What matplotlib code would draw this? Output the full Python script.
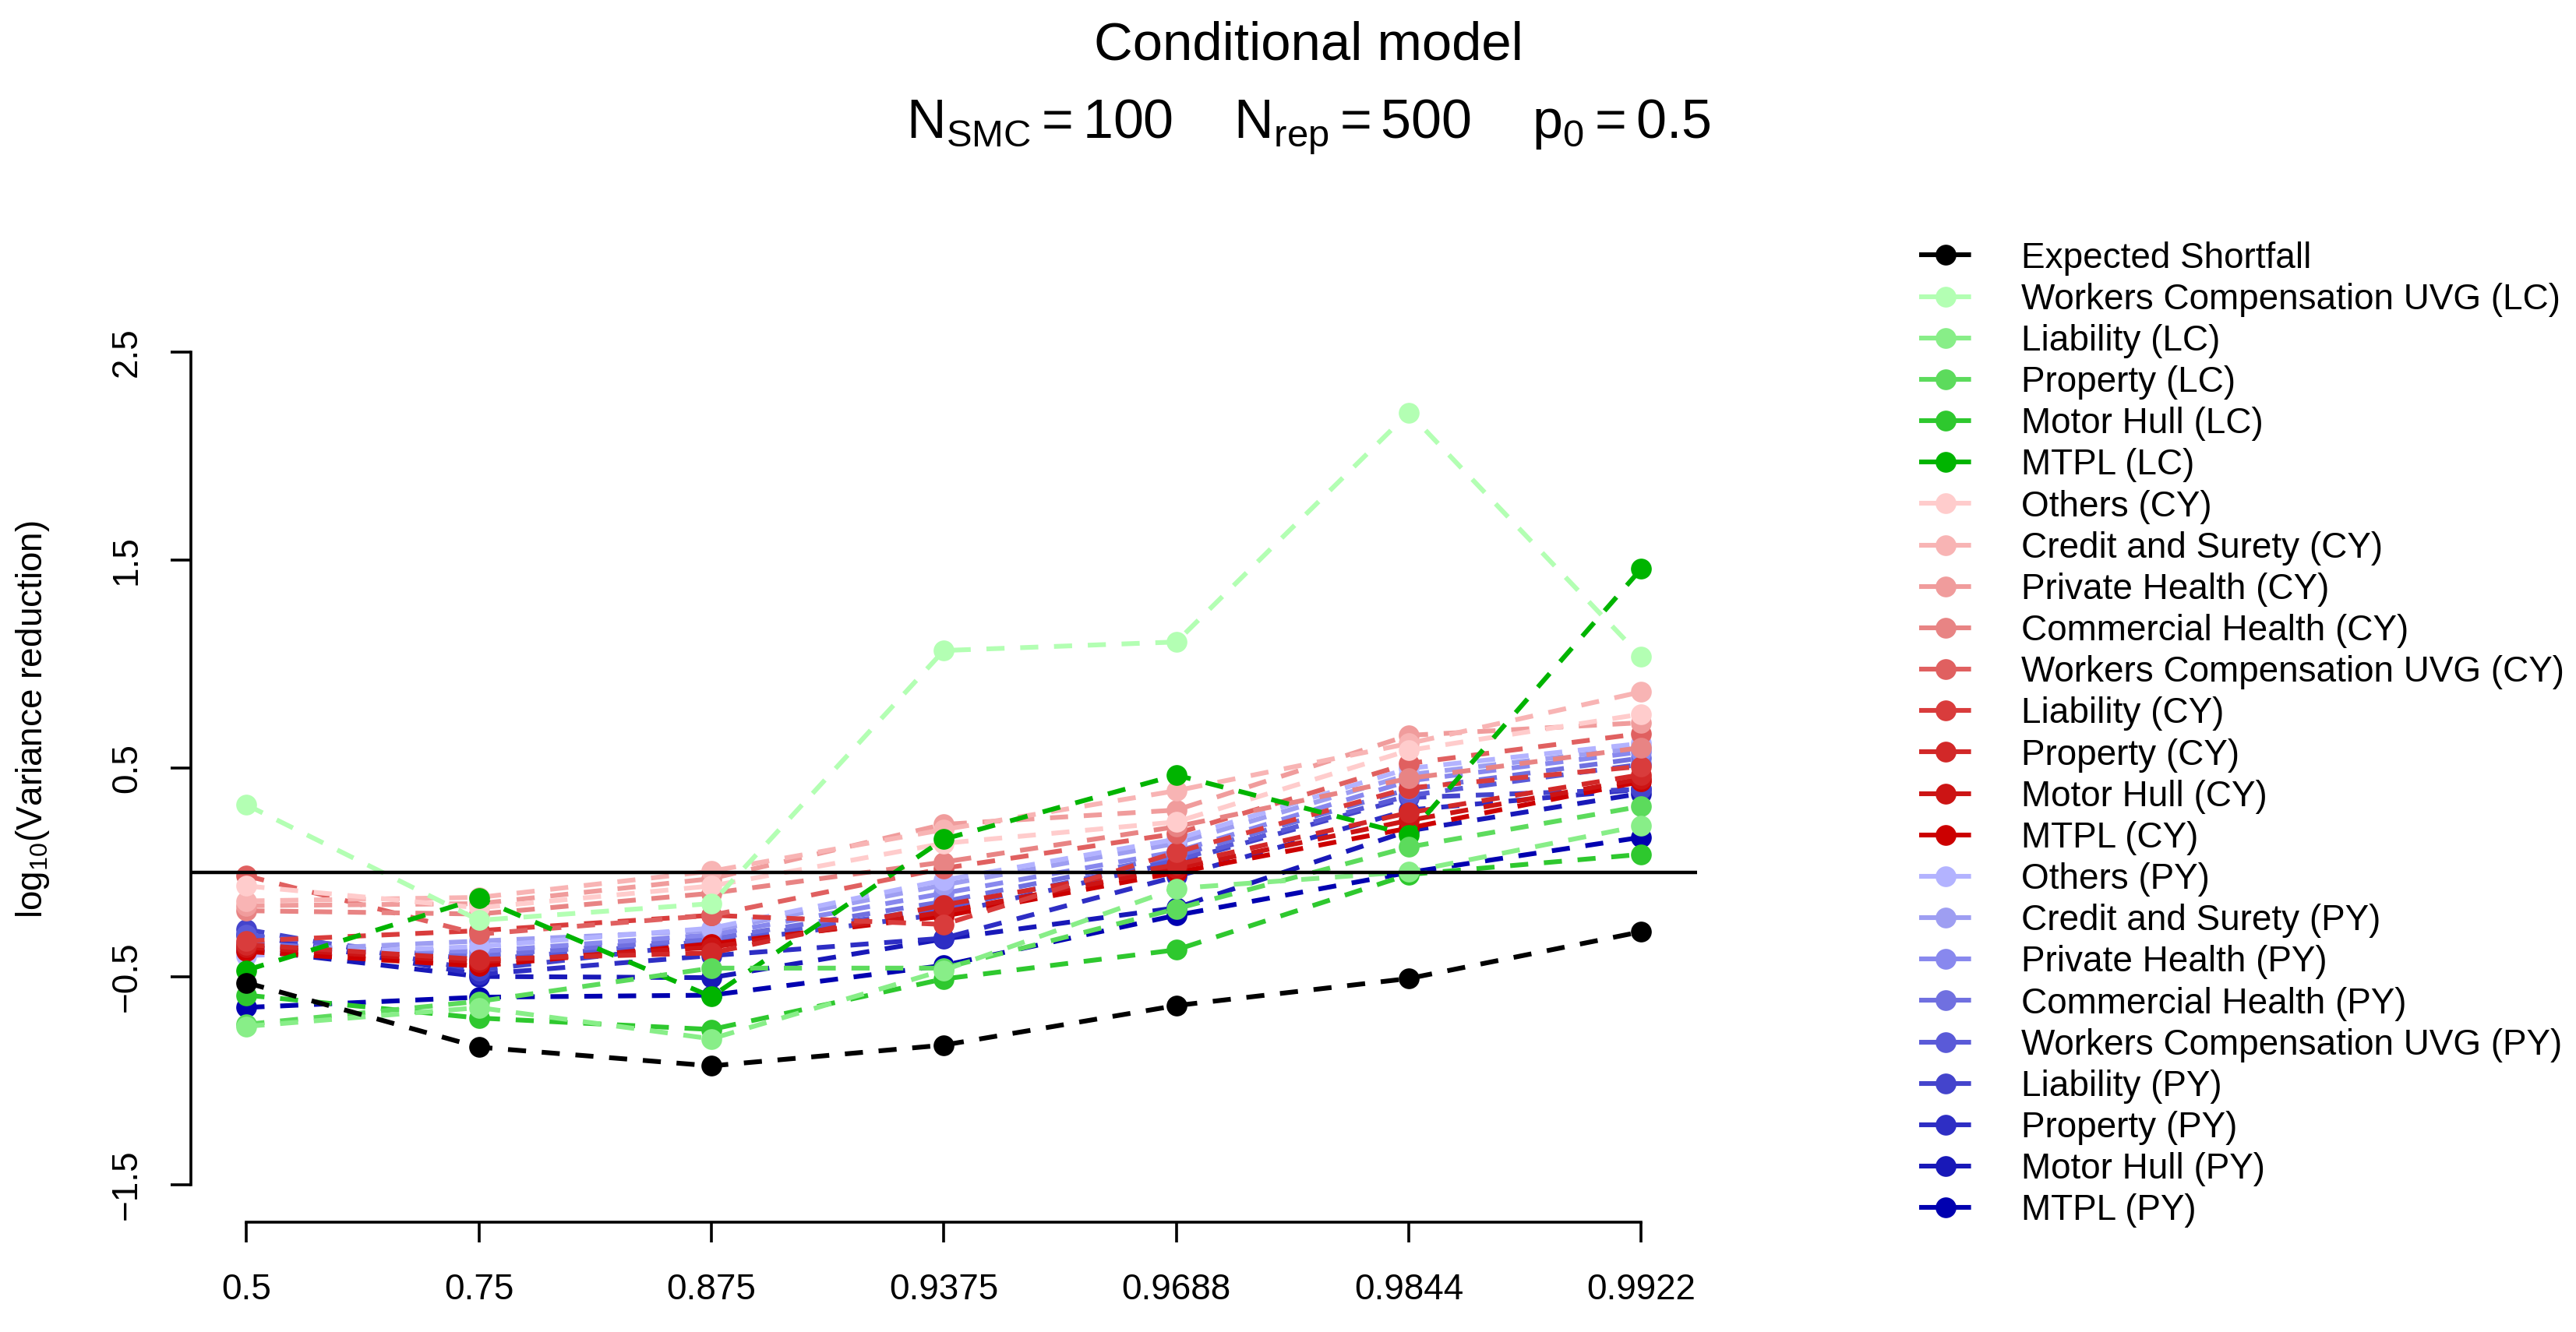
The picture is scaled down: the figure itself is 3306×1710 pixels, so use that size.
import matplotlib
matplotlib.use("Agg")
import matplotlib.pyplot as plt
from matplotlib.lines import Line2D

plt.rcParams['font.family'] = ['Liberation Sans', 'DejaVu Sans']
plt.rcParams['mathtext.fontset'] = 'custom'
plt.rcParams['mathtext.rm'] = 'Liberation Sans'
plt.rcParams['mathtext.it'] = 'Liberation Sans:italic'
plt.rcParams['mathtext.bf'] = 'Liberation Sans:bold'

# ---------------- data ----------------
x_labels = ["0.5", "0.75", "0.875", "0.9375", "0.9688", "0.9844", "0.9922"]

series_names = [
    "Expected Shortfall",
    "Workers Compensation UVG (LC)", "Liability (LC)", "Property (LC)", "Motor Hull (LC)", "MTPL (LC)",
    "Others (CY)", "Credit and Surety (CY)", "Private Health (CY)", "Commercial Health (CY)",
    "Workers Compensation UVG (CY)", "Liability (CY)", "Property (CY)", "Motor Hull (CY)", "MTPL (CY)",
    "Others (PY)", "Credit and Surety (PY)", "Private Health (PY)", "Commercial Health (PY)",
    "Workers Compensation UVG (PY)", "Liability (PY)", "Property (PY)", "Motor Hull (PY)", "MTPL (PY)",
]

series_colors = [
    "#000000",
    "#B3FFB3", "#88EE88", "#5CDB5C", "#2EC82E", "#00B400",
    "#FFCCCC", "#F8B4B4", "#F09C9C", "#E88484", "#E06060", "#D93C3C", "#D22828", "#CC1414", "#CC0000",
    "#B3B3FF", "#9E9EF2", "#8888EE", "#7070E0", "#5A5AD8", "#4444CC", "#2E2EC4", "#1818B8", "#0000B0",
]

es          = [-0.53, -0.84, -0.93, -0.83, -0.64, -0.51, -0.285]
wc_lc       = [0.325, -0.23, -0.15, 1.067, 1.108, 2.21, 1.037]
liab_lc     = [-0.74, -0.65, -0.80, -0.47, -0.077, 0.003, 0.225]
prop_lc     = [-0.73, -0.62, -0.46, -0.46, -0.175, 0.122, 0.318]
mh_lc       = [-0.59, -0.70, -0.755, -0.512, -0.372, -0.01, 0.087]
mtpl_lc     = [-0.47, -0.125, -0.597, 0.16, 0.468, 0.181, 1.46]

others_cy   = [-0.065, -0.17, -0.065, 0.14, 0.243, 0.587, 0.761]
credit_cy   = [-0.137, -0.12, 0.006, 0.206, 0.393, 0.62, 0.868]
private_cy  = [-0.16, -0.15, -0.03, 0.231, 0.30, 0.659, 0.72]
comm_cy     = [-0.184, -0.20, -0.10, 0.05, 0.22, 0.452, 0.60]
wc_cy       = [-0.016, -0.297, -0.206, 0.02, 0.187, 0.524, 0.668]
liab_cy     = [-0.33, -0.28, -0.206, -0.25, 0.097, 0.406, 0.51]
prop_cy     = [-0.347, -0.418, -0.387, -0.156, 0.037, 0.287, 0.47]
mh_cy       = [-0.36, -0.43, -0.36, -0.19, 0.02, 0.25, 0.45]
mtpl_cy     = [-0.38, -0.45, -0.343, -0.21, 0.0, 0.213, 0.437]

others_py   = [-0.40, -0.356, -0.268, -0.037, 0.16, 0.50, 0.62]
credit_py   = [-0.38, -0.33, -0.28, -0.06, 0.14, 0.47, 0.60]
private_py  = [-0.36, -0.38, -0.30, -0.10, 0.10, 0.44, 0.58]
comm_py     = [-0.34, -0.40, -0.32, -0.14, 0.08, 0.40, 0.55]
wc_py       = [-0.30, -0.42, -0.33, -0.17, 0.06, 0.37, 0.52]
liab_py     = [-0.274, -0.47, -0.34, -0.20, 0.05, 0.36, 0.40]
prop_py     = [-0.30, -0.49, -0.40, -0.316, -0.02, 0.30, 0.40]
mh_py       = [-0.37, -0.50, -0.506, -0.32, -0.17, 0.20, 0.38]
mtpl_py     = [-0.649, -0.60, -0.59, -0.447, -0.206, 0.0, 0.169]

series_values = [
    es, wc_lc, liab_lc, prop_lc, mh_lc, mtpl_lc,
    others_cy, credit_cy, private_cy, comm_cy, wc_cy, liab_cy, prop_cy, mh_cy, mtpl_cy,
    others_py, credit_py, private_py, comm_py, wc_py, liab_py, prop_py, mh_py, mtpl_py,
]

y_ticks = [-1.5, -0.5, 0.5, 1.5, 2.5]

# ---------------- figure ----------------
W, H, DPI = 3306, 1710, 200
fig = plt.figure(figsize=(W / DPI, H / DPI), dpi=DPI)
ax = fig.add_axes([0.0740, 0.0858, 0.5848, 0.6746])

xpos = list(range(1, len(x_labels) + 1))
FS = 16.5
LW = 2.2
dash = (0, (3.8, 3.3))
MS = 9.6

n = len(series_values)
handles = []
for i in range(n):
    # first legend entry lies on top
    ax.plot(xpos, series_values[i], linestyle=dash, lw=LW, color=series_colors[i],
            marker='o', ms=MS, mec=series_colors[i], mew=0, zorder=3 + (n - i) * 0.01)
    handles.append(Line2D([0], [0], linestyle=dash, lw=LW, color=series_colors[i],
                          marker='o', ms=MS, mew=0))

ax.axhline(0, color='black', lw=1.6, zorder=10)

ax.set_xlim(0.76, 7.24)
ax.set_ylim(-1.66, 2.66)

for s in ['top', 'right']:
    ax.spines[s].set_visible(False)
ax.spines['left'].set_bounds(-1.5, 2.5)
ax.spines['bottom'].set_bounds(1, 7)
ax.spines['bottom'].set_position(('outward', 2))
for s in ['left', 'bottom']:
    ax.spines[s].set_linewidth(1.3)

ax.set_xticks(xpos)
ax.set_xticklabels(x_labels)
ax.set_yticks(y_ticks)
ax.set_yticklabels([f"{t:.1f}".replace("-", "\u2212") for t in y_ticks], rotation=90, va='center')
ax.tick_params(axis='both', length=9.5, width=1.3, labelsize=FS, direction='out')
ax.tick_params(axis='x', pad=14)
ax.tick_params(axis='y', pad=12)

fig.text(0.0127, 0.46, r"log$_{10}$(Variance reduction)", rotation=90, ha='center', va='center',
         fontsize=FS)

fig.text(0.508, 0.966, "Conditional model", ha='center', va='center', fontsize=24.8)
fig.text(0.508, 0.905,
         r"$\mathregular{N_{SMC} = 100\quad\,\, N_{rep} = 500\quad\,\, p_0 = 0.5}$",
         ha='center', va='center', fontsize=25.2)

leg = fig.legend(handles, series_names, loc='upper left', bbox_to_anchor=(0.745, 0.819),
                 frameon=False, fontsize=FS, handlelength=1.47, handletextpad=1.38,
                 labelspacing=0.2, borderpad=0, borderaxespad=0, numpoints=1)

fig.savefig("out.png", dpi=DPI)
